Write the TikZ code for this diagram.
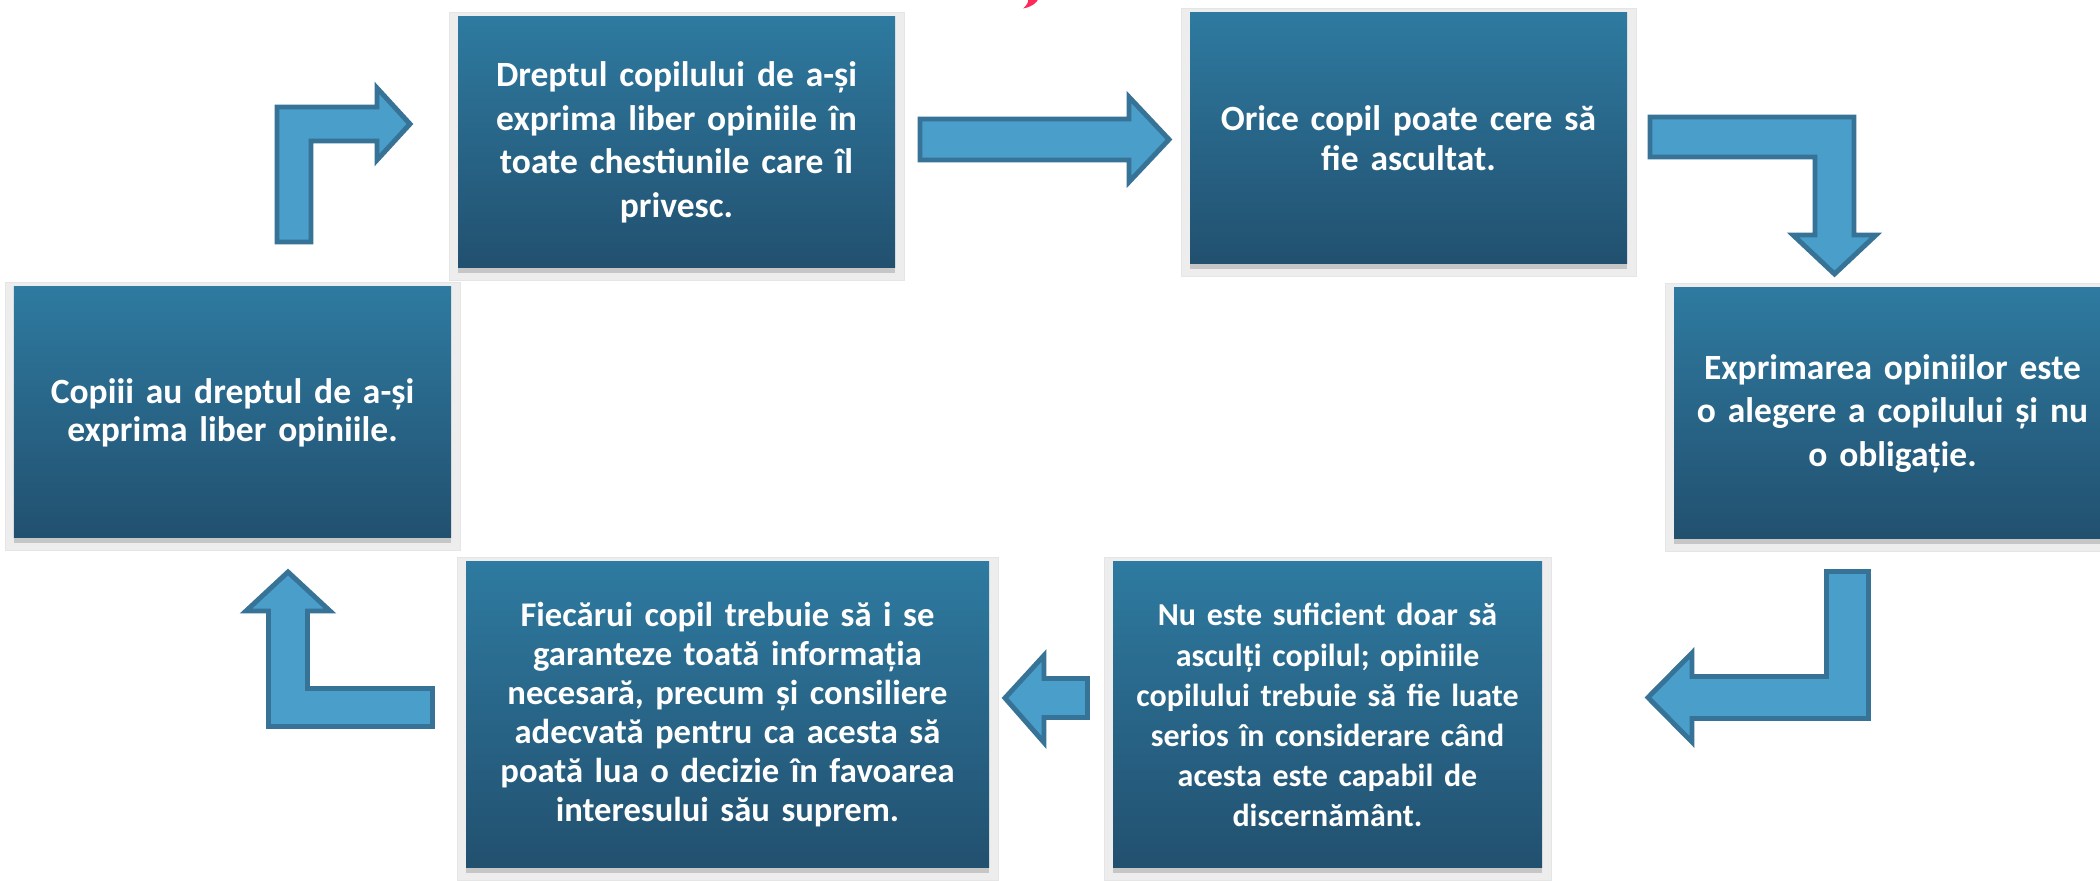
\documentclass[tikz,border=0pt]{standalone}
\usepackage{fontspec}
\setmainfont{Carlito}
\usetikzlibrary{shadows,backgrounds}
\definecolor{boxTop}{RGB}{46, 122, 160}
\definecolor{boxMid}{RGB}{44, 113, 150}
\definecolor{boxBottom}{RGB}{34, 80, 111}
\definecolor{arrowFill}{RGB}{74, 158, 202}
\definecolor{arrowLine}{RGB}{54, 115, 151}
\definecolor{titleRed}{RGB}{255, 40, 90}
\tikzset{
  card/.style={top color=boxTop, middle color=boxMid, bottom color=boxBottom,
    text=white, font=\bfseries\fontsize{10.1}{11.4}\selectfont, align=center,
    minimum width=4.37cm, minimum height=2.51cm, inner sep=0pt,
    drop shadow={shadow xshift=0pt, shadow yshift=-0.05cm, opacity=0.35}},
  frame/.style={fill=black!7, draw=black!10, line width=0.4pt},
  blockarrow/.style={fill=arrowFill, draw=arrowLine, line width=1.4pt, line join=miter}
}

\begin{document}
\begin{tikzpicture}
  \useasboundingbox (0,0) rectangle (21,-8.81);

  % boxes of the cycle
  \node[card, text width=4.3cm, font=\bfseries\fontsize{10.1}{12.4}\selectfont] (drept) at (6.765,-1.425) {Dreptul copilului de a-și\\exprima liber opiniile în\\toate chestiunile care îl\\privesc.};
  \node[card, text width=4.3cm] (ascultat) at (14.085,-1.385) {Orice copil poate cere să\\fie ascultat.};
  \node[card, text width=4.3cm, font=\bfseries\fontsize{10.1}{12.4}\selectfont] (alegere) at (18.925,-4.135) {Exprimarea opiniilor este\\o alegere a copilului și nu\\o obligație.};
  \node[card, text width=4.25cm, minimum width=4.29cm, minimum height=3.06cm, font=\bfseries\fontsize{9.1}{11.4}\selectfont] (serios) at (13.275,-7.15) {Nu este suficient doar să\\asculți copilul; opiniile\\copilului trebuie să fie luate\\serios în considerare când\\acesta este capabil de\\discernământ.};
  \node[card, text width=5.1cm, minimum width=5.23cm, minimum height=3.06cm, font=\bfseries\fontsize{9.85}{11.1}\selectfont] (informatie) at (7.275,-7.15) {Fiecărui copil trebuie să i se\\garanteze toată informația\\necesară, precum și consiliere\\adecvată pentru ca acesta să\\poată lua o decizie în favoarea\\interesului său suprem.};
  \node[card, text width=4.3cm, font=\bfseries\fontsize{10.1}{10.8}\selectfont] (copiii) at (2.325,-4.125) {Copiii au dreptul de a-și\\exprima liber opiniile.};

  % white frames behind the boxes
  \begin{scope}[on background layer]
    \fill[white] (0,0) rectangle (21,-8.81);
    \foreach \n in {drept,ascultat,alegere,serios,informatie,copiii}
      \fill[frame] ([xshift=-0.08cm,yshift=0.04cm]\n.north west) rectangle ([xshift=0.09cm,yshift=-0.12cm]\n.south east);
  \end{scope}

  % block arrows between the boxes
  \draw[blockarrow] (2.77,-2.42) -- (2.77,-1.07) -- (3.77,-1.07) -- (3.77,-0.88) -- (4.10,-1.24) -- (3.77,-1.60) -- (3.77,-1.41) -- (3.11,-1.41) -- (3.11,-2.42) -- cycle;
  \draw[blockarrow] (9.20,-1.19) -- (11.29,-1.19) -- (11.29,-0.97) -- (11.69,-1.395) -- (11.29,-1.82) -- (11.29,-1.60) -- (9.20,-1.60) -- cycle;
  \draw[blockarrow] (16.50,-1.17) -- (18.54,-1.17) -- (18.54,-2.35) -- (18.76,-2.35) -- (18.345,-2.74) -- (17.93,-2.35) -- (18.15,-2.35) -- (18.15,-1.57) -- (16.50,-1.57) -- cycle;
  \draw[blockarrow] (18.265,-5.715) -- (18.685,-5.715) -- (18.685,-7.185) -- (16.92,-7.185) -- (16.92,-7.42) -- (16.48,-6.975) -- (16.92,-6.53) -- (16.92,-6.765) -- (18.265,-6.765) -- cycle;
  \draw[blockarrow] (10.875,-6.785) -- (10.44,-6.785) -- (10.44,-6.555) -- (10.05,-6.98) -- (10.44,-7.425) -- (10.44,-7.175) -- (10.875,-7.175) -- cycle;
  \draw[blockarrow] (4.325,-6.885) -- (3.075,-6.885) -- (3.075,-6.11) -- (3.30,-6.11) -- (2.88,-5.72) -- (2.46,-6.11) -- (2.685,-6.11) -- (2.685,-7.265) -- (4.325,-7.265) -- cycle;

  % cut-off stroke of the title at the top edge
  \fill[titleRed] (10.28,0.02) -- (10.39,0.02) .. controls (10.36,-0.04) and (10.31,-0.07) .. (10.23,-0.085) .. controls (10.27,-0.05) and (10.29,-0.02) .. cycle;
\end{tikzpicture}
\end{document}
